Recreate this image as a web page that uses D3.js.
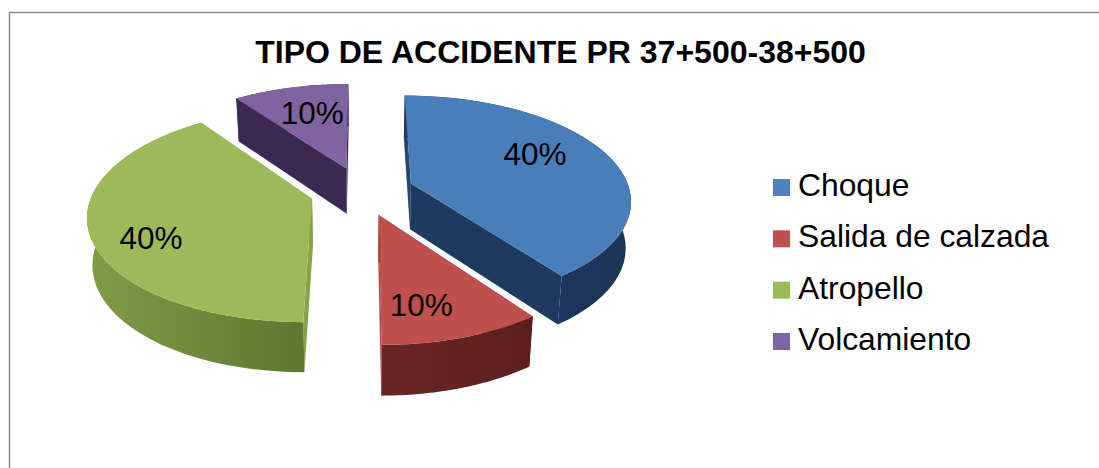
<!DOCTYPE html>
<html>
<head>
<meta charset="utf-8">
<script src="https://cdnjs.cloudflare.com/ajax/libs/d3/7.8.5/d3.min.js"></script>
<style>
  html, body { margin: 0; padding: 0; background: #fff; }
  svg { display: block; }
  text { font-family: "Liberation Sans", Arial, sans-serif; fill: #000; }
</style>
</head>
<body>
<svg id="chart" width="1099" height="468"></svg>
<script>
const titleText = 'TIPO DE ACCIDENTE PR 37+500-38+500';
const categories = ['Choque', 'Salida de calzada', 'Atropello', 'Volcamiento'];
const values = [40, 10, 40, 10];

const legendColors = ['#4f81bd', '#c0504d', '#9bbb59', '#8064a2'];
const topColors = ['#4a7ebb', '#c0504d', '#9bbb59', '#8064a2'];
const rimColors = [['#1f3b61', '#1c3557'], ['#6a2624', '#5c1f1d'], ['#7f9c48', '#5d7830'], ['#3a2a50', '#3a2a50']];
// wall on the end edge, wall on the start edge
const wallColors = [['#1e3a5f', '#24476f'], ['#a8443f', '#541c1a'], ['#86a34c', '#86a34c'], ['#3a2a50', '#3a2a50']];

// perspective of the pie plane, fitted by eye
const width = 1099;
const height = 468;
const cx = 362;
const cy = 191;
const radius = 219;
const explode = 52;
const persp = 0.00067;
const squash = 0.47;
const depth = 46;
const bottomShrink = 0.98;

// where the % label sits inside each slice
const labelFraction = [0.62, 0.6, 0.7, 0.6];
const labelNudge = [[1, -11], [-5, 21], [-7, 16], [1, -5]];

function project(x, y) {
  const w = 1 / (1 - persp * y);
  return [cx + x * w, cy + squash * y * w, depth * Math.sqrt(w)];
}

const svg = d3.select('#chart');
const defs = svg.append('defs');

// frame of the chart, only top and left show
svg.append('path')
  .attr('d', d3.line()([[9.5, height], [9.5, 12.5], [width, 12.5]]))
  .attr('fill', 'none')
  .attr('stroke', '#8c8c8c')
  .attr('stroke-width', 1.5);

svg.append('text')
  .attr('x', 560.5)
  .attr('y', 63)
  .attr('text-anchor', 'middle')
  .attr('font-size', 32)
  .attr('font-weight', 'bold')
  .text(titleText);

const arcs = d3.pie().sort(null)(values);

const slices = arcs.map((arc, i) => {
  const mid = (arc.startAngle + arc.endAngle) / 2;
  const ox = explode * Math.sin(mid);
  const oy = -explode * Math.cos(mid);
  const disk = (a, r) => [ox + r * Math.sin(a), oy - r * Math.cos(a)];
  const rim = d3.range(0, 41)
    .map(t => arc.startAngle + (arc.endAngle - arc.startAngle) * t / 40)
    .map(a => project(...disk(a, radius)));
  const apex = project(ox, oy);
  const label = project(...disk(mid, radius * labelFraction[i]));
  return { i, mid, rim, apex, label: [label[0] + labelNudge[i][0], label[1] + labelNudge[i][1]] };
});

const line = d3.line();
const down = p => [cx + (p[0] - cx) * bottomShrink, p[1] + p[2]];
const flat = p => [p[0], p[1]];

function addGradient(id, colors) {
  const g = defs.append('linearGradient').attr('id', id);
  g.append('stop').attr('offset', '0%').attr('stop-color', colors[0]);
  g.append('stop').attr('offset', '100%').attr('stop-color', colors[1]);
}

// back slices first
const order = [3, 0, 2, 1];
order.forEach((i) => {
  const s = slices[i];
  const g = svg.append('g').attr('class', `slice-${i}`);
  addGradient(`rim${i}`, rimColors[i]);

  const first = s.rim[0];
  const last = s.rim[s.rim.length - 1];

  g.append('path')
    .attr('d', line([flat(s.apex), flat(first), down(first), down(s.apex)]) + 'Z')
    .attr('fill', wallColors[i][1]);
  g.append('path')
    .attr('d', line([flat(s.apex), flat(last), down(last), down(s.apex)]) + 'Z')
    .attr('fill', wallColors[i][0]);
  g.append('path')
    .attr('d', line([...s.rim.map(flat), ...s.rim.slice().reverse().map(down)]) + 'Z')
    .attr('fill', `url(#rim${i})`);
  g.append('path')
    .attr('d', line([flat(s.apex), ...s.rim.map(flat)]) + 'Z')
    .attr('fill', topColors[i]);
});

const total = d3.sum(values);
svg.selectAll('text.pct')
  .data(slices)
  .enter()
  .append('text')
  .attr('class', 'pct')
  .attr('x', d => d.label[0])
  .attr('y', d => d.label[1])
  .attr('dy', '0.36em')
  .attr('text-anchor', 'middle')
  .attr('font-size', 31.5)
  .text(d => `${Math.round(values[d.i] / total * 100)}%`);

// legend
const legendY = d3.scalePoint().domain(categories).range([196, 350]);
const legend = svg.selectAll('g.legend')
  .data(categories)
  .enter()
  .append('g')
  .attr('class', 'legend')
  .attr('transform', d => `translate(773,${legendY(d)})`);

legend.append('rect')
  .attr('y', -17)
  .attr('width', 17)
  .attr('height', 17)
  .attr('fill', (d, i) => legendColors[i]);

legend.append('text')
  .attr('x', 25)
  .attr('font-size', 31.8)
  .text(d => d);
</script>
</body>
</html>
